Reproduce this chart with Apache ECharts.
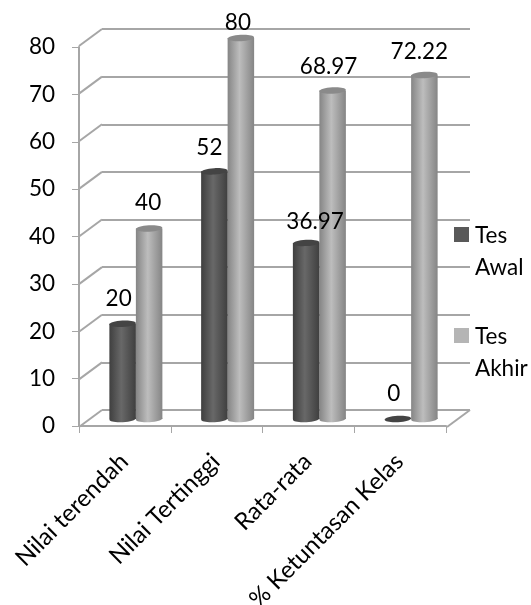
<!DOCTYPE html>
<html>
<head>
<meta charset="utf-8">
<style>
html,body{margin:0;padding:0;background:#fff;}
#main{width:531px;height:605px;}
</style>
<script src="https://cdn.jsdelivr.net/npm/echarts@6/dist/echarts.min.js"></script>
</head>
<body>
<div id="main"></div>
<script>
var categories = ['Nilai terendah', 'Nilai Tertinggi', 'Rata-rata', '% Ketuntasan Kelas'];
var tesAwal = [20, 52, 36.97, 0];
var tesAkhir = [40, 80, 68.97, 72.22];
var yTicks = [0, 10, 20, 30, 40, 50, 60, 70, 80];

var FONT = 'Lato';
var LINE = '#a6a6a6';
var DEPTH_X = 23, DEPTH_Y = 17;
var BAR_W = 26.5;
var TILT = 0.06;

//manual label shifts, the source chart had them dragged around
var awalShift = [[-4, 3], [-5, 5], [9, 7], [-4, 3]];
var akhirShift = [[-1, 3], [-3, 13], [-4, 5], [-5, 5]];

//one cylinder: body, bottom and top ellipse, value label
function cylinder(side, colors, shifts) {
	return function(params, api) {
		var i = api.value(0);
		var val = api.value(1);
		var top = api.coord([i, val]);
		var base = api.coord([i, 0]);
		var cx = top[0] + side * BAR_W / 2;
		var rx = BAR_W / 2;
		var ry = 3.2;
		var shift = shifts[params.dataIndexInside];
		var kids = [];
		if (val > 0) {
			var body = new echarts.graphic.LinearGradient(0, 0, 1, 0, [
				{ offset: 0, color: colors.edge },
				{ offset: 0.45, color: colors.mid },
				{ offset: 1, color: colors.edge }
			]);
			kids.push({
				type: 'ellipse',
				originX: cx,
				originY: base[1],
				rotation: TILT,
				shape: { cx: cx, cy: base[1], rx: rx, ry: ry },
				style: { fill: body }
			});
			kids.push({
				type: 'rect',
				shape: { x: cx - rx, y: top[1], width: BAR_W, height: base[1] - top[1] },
				style: { fill: body }
			});
		}
		kids.push({
			type: 'ellipse',
			originX: cx,
			originY: top[1],
			rotation: TILT,
			shape: { cx: cx, cy: top[1], rx: rx, ry: ry },
			style: { fill: colors.cap }
		});
		kids.push({
			type: 'text',
			z2: 100,
			style: {
				text: String(val),
				x: cx + shift[0],
				y: top[1] - 17 + shift[1],
				align: 'center',
				verticalAlign: 'bottom',
				fill: '#000',
				font: '22.5px ' + FONT
			}
		});
		return { type: 'group', children: kids };
	};
}

//diagonals between the front axis and the back wall
function depthLine(params, api) {
	var p = api.coord([api.value(0), api.value(1)]);
	return {
		type: 'line',
		shape: { x1: p[0], y1: p[1], x2: p[0] - DEPTH_X, y2: p[1] + DEPTH_Y },
		style: { stroke: LINE, lineWidth: 2 }
	};
}

var depthData = yTicks.map(function(v) { return [0, v]; });
depthData.push([1, 0]);

function rows(arr) {
	return arr.map(function(v, i) { return [i, v]; });
}

var option = {
	animation: false,
	backgroundColor: '#fff',
	textStyle: { fontFamily: FONT },
	grid: [
		{ left: 79, top: 47, width: 367, height: 379, outerBoundsMode: 'none' },
		{ left: 102, top: 29, width: 368, height: 381, outerBoundsMode: 'none' },
		{ left: 90, top: 38, width: 367, height: 381, outerBoundsMode: 'none' }
	],
	xAxis: [
		{
			gridIndex: 0,
			type: 'category',
			data: categories,
			axisLine: { show: true, lineStyle: { color: LINE, width: 2 } },
			axisTick: { show: true, length: 7, lineStyle: { color: LINE, width: 1 } },
			axisLabel: { rotate: 45, interval: 0, margin: 14, fontSize: 24, verticalAlign: 'top', padding: [0, 13, 0, 0], color: '#000', fontFamily: FONT },
			splitLine: { show: false }
		},
		{ gridIndex: 1, type: 'value', min: 0, max: 1, show: false, splitLine: { show: false } },
		{ gridIndex: 2, type: 'category', data: categories, show: false }
	],
	yAxis: [
		{
			gridIndex: 0,
			type: 'value',
			min: 0,
			max: 80,
			interval: 10,
			axisLine: { show: true, lineStyle: { color: LINE, width: 2 } },
			axisTick: { show: true, length: 7, lineStyle: { color: LINE, width: 1 } },
			axisLabel: { margin: 24, fontSize: 22.5, color: '#000', fontFamily: FONT },
			splitLine: { show: false }
		},
		{
			gridIndex: 1,
			type: 'value',
			min: 0,
			max: 80,
			interval: 10,
			axisLine: { show: false },
			axisTick: { show: false },
			axisLabel: { show: false },
			splitLine: { show: true, lineStyle: { color: LINE, width: 2 } }
		},
		{ gridIndex: 2, type: 'value', min: 0, max: 80, show: false, splitLine: { show: false } }
	],
	legend: {
		left: 449,
		top: 215,
		orient: 'vertical',
		itemWidth: 15,
		itemHeight: 50,
		itemGap: 37,
		//bbox padding below the square keeps it level with the first text line
		icon: 'path://M0,0H15V15H0Z M0,50L0,50',
		selectedMode: false,
		textStyle: { fontSize: 22.5, lineHeight: 32, color: '#000', fontFamily: FONT, padding: [0, 0, 0, 1] },
		data: ['Tes\nAwal', 'Tes\nAkhir']
	},
	series: [
		{
			type: 'custom',
			silent: true,
			xAxisIndex: 1,
			yAxisIndex: 1,
			z: 1,
			renderItem: depthLine,
			data: depthData
		},
		{
			name: 'Tes\nAkhir',
			type: 'custom',
			xAxisIndex: 2,
			yAxisIndex: 2,
			z: 3,
			itemStyle: { color: '#b5b5b5' },
			renderItem: cylinder(1, { edge: '#858585', mid: '#bdbdbd', cap: '#8a8a8a' }, akhirShift),
			data: rows(tesAkhir)
		},
		{
			name: 'Tes\nAwal',
			type: 'custom',
			xAxisIndex: 2,
			yAxisIndex: 2,
			z: 4,
			itemStyle: { color: '#595959' },
			renderItem: cylinder(-1, { edge: '#3f3f3f', mid: '#686868', cap: '#444444' }, awalShift),
			data: rows(tesAwal)
		}
	]
};

var myChart = echarts.init(document.getElementById('main'));
myChart.setOption(option);
</script>
</body>
</html>
